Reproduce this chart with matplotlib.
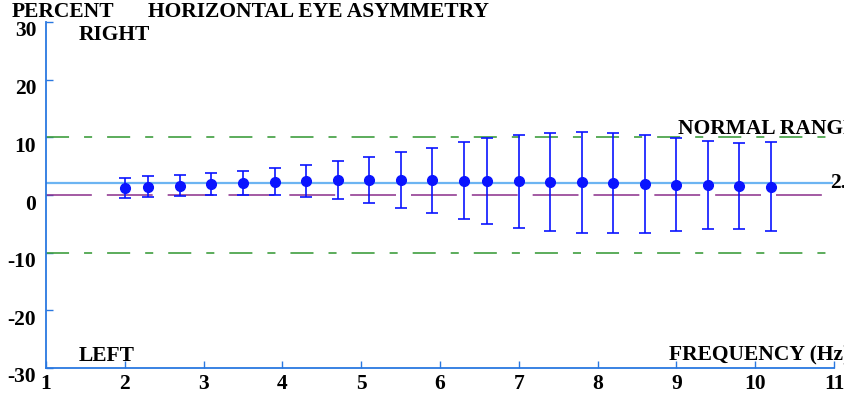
import numpy as np
import matplotlib
matplotlib.use('Agg')
import matplotlib.pyplot as plt
import matplotlib.transforms as mtransforms

plt.rcParams['font.family'] = ['Liberation Serif', 'DejaVu Serif']
plt.rcParams['font.weight'] = 'bold'
plt.rcParams['lines.scale_dashes'] = False
plt.rcParams['axes.unicode_minus'] = False

# frequency (Hz) and asymmetry (percent): mean, upper and lower error limits
freq = [2.0, 2.3, 2.7, 3.1, 3.5, 3.9, 4.3, 4.7, 5.1, 5.5, 5.9,
        6.3, 6.6, 7.0, 7.4, 7.8, 8.2, 8.6, 9.0, 9.4, 9.8, 10.2]
mean = [1.16, 1.39, 1.61, 1.91, 2.13, 2.31, 2.48, 2.60, 2.60, 2.60, 2.55,
        2.48, 2.43, 2.37, 2.25, 2.20, 2.03, 1.91, 1.78, 1.68, 1.56, 1.44]
upper = [2.89, 3.24, 3.52, 3.76, 4.21, 4.63, 5.25, 5.84, 6.59, 7.45, 8.20,
         9.13, 9.83, 10.40, 10.80, 10.97, 10.69, 10.35, 9.83, 9.31, 9.06, 9.13]
lower = [-0.57, -0.35, -0.17, 0.0, 0.0, -0.05, -0.29, -0.75, -1.33, -2.20, -3.07,
         -4.16, -4.97, -5.72, -6.24, -6.64, -6.64, -6.64, -6.19, -5.89, -5.89, -6.19]
avg = 2.1
normal_lo, normal_hi = -10, 10
xticks = list(range(1, 12))
yticks = [-30, -20, -10, 0, 10, 20, 30]

mean = np.array(mean)
yerr = [mean - np.array(lower), np.array(upper) - mean]

axis_blue = '#2a78e0'
fs = 15.5

fig = plt.figure(figsize=(8.45, 3.97), dpi=100)
ax = fig.add_axes([46 / 845, 1 - 368 / 397, 788 / 845, 346 / 397])

# reference lines
ax.plot([1, 11], [normal_hi, normal_hi], color='#3f9e3f', lw=1.2,
        dashes=[16.6, 10.8, 5.8, 10.8])
ax.plot([1, 11], [normal_lo, normal_lo], color='#3f9e3f', lw=1.2,
        dashes=[16.6, 10.8, 5.8, 10.8])
ax.plot([1, 10.97], [0, 0], color='#8a2d8a', lw=1.1, dashes=[33, 10.8])
ax.plot([1, 10.97], [avg, avg], color='#6cb4f2', lw=1.6)

ax.errorbar(freq, mean, yerr=yerr, fmt='o', color='#0a14ff', ms=7,
            capsize=4.3, elinewidth=1.2, capthick=1.2, zorder=3)

ax.set_xlim(1, 11)
ax.set_ylim(-30, 30)
ax.set_xticks(xticks)
ax.set_yticks(yticks)
ax.tick_params(direction='in', length=5, width=1, color=axis_blue,
               labelsize=fs)
ax.tick_params(axis='y', pad=7)
ax.tick_params(axis='x', pad=4)
for s in ['top', 'right']:
    ax.spines[s].set_visible(False)
for s in ['left', 'bottom']:
    ax.spines[s].set_color(axis_blue)
    ax.spines[s].set_linewidth(1.3)

# y labels sit a little below their ticks in the original
shift = mtransforms.ScaledTranslation(0, -7 / 100, fig.dpi_scale_trans)
for lab in ax.get_yticklabels():
    lab.set_transform(lab.get_transform() + shift)

ax.text(1.41, 27.7, 'RIGHT', fontsize=fs, va='center')
ax.text(1.41, -27.9, 'LEFT', fontsize=fs, va='center')
ax.text(8.91, -27.9, 'FREQUENCY (Hz)', fontsize=fs, va='center')
ax.text(9.02, 10.6, 'NORMAL RANGE', fontsize=fs, va='baseline')
ax.text(10.955, avg, '2.1', fontsize=fs, va='center')

fig.text(12 / 845, 1 - 12 / 397, 'PERCENT', fontsize=fs, va='center')
fig.text(148 / 845, 1 - 12 / 397, 'HORIZONTAL EYE ASYMMETRY', fontsize=fs, va='center')

fig.savefig('out.png', dpi=100)
